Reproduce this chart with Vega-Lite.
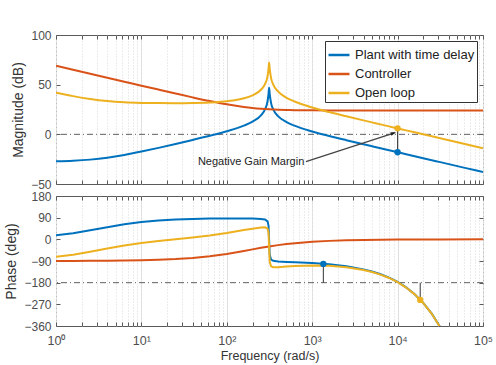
{
  "$schema": "https://vega.github.io/schema/vega-lite/v6.json",
  "padding": {"left": 4, "top": 28, "right": 2, "bottom": 2},
  "background": "white",
  "config": {
    "font": "Liberation Sans",
    "view": {"stroke": "#5a5a5a", "strokeWidth": 1},
    "axis": {
      "labelFontSize": 12,
      "labelColor": "#4d4d4d",
      "titleFontSize": 14,
      "titleFontWeight": "normal",
      "titleColor": "#333333",
      "domain": false,
      "tickColor": "#5a5a5a",
      "tickSize": -4,
      "gridColor": "#e3e3e3",
      "gridWidth": 1,
      "labelOverlap": false
    },
    "legend": {"labelFontSize": 13, "labelColor": "#222222"}
  },
  "datasets": {
    "bode": [
      {"w": 1, "s": "Plant with time delay", "mag": -27.07, "ph": 16.9},
      {"w": 1.585, "s": "Plant with time delay", "mag": -26.55, "ph": 25.7},
      {"w": 2.512, "s": "Plant with time delay", "mag": -25.46, "ph": 37.3},
      {"w": 3.981, "s": "Plant with time delay", "mag": -23.55, "ph": 50.3},
      {"w": 6.31, "s": "Plant with time delay", "mag": -20.77, "ph": 62.4},
      {"w": 10, "s": "Plant with time delay", "mag": -17.36, "ph": 71.7},
      {"w": 15.85, "s": "Plant with time delay", "mag": -13.62, "ph": 78.1},
      {"w": 25.12, "s": "Plant with time delay", "mag": -9.7, "ph": 82.2},
      {"w": 39.81, "s": "Plant with time delay", "mag": -5.65, "ph": 84.8},
      {"w": 63.1, "s": "Plant with time delay", "mag": -1.45, "ph": 86.2},
      {"w": 100, "s": "Plant with time delay", "mag": 3.11, "ph": 86.8},
      {"w": 158.5, "s": "Plant with time delay", "mag": 8.75, "ph": 86.7},
      {"w": 200, "s": "Plant with time delay", "mag": 12.76, "ph": 86.1},
      {"w": 251.2, "s": "Plant with time delay", "mag": 19.13, "ph": 84.6},
      {"w": 280, "s": "Plant with time delay", "mag": 25.08, "ph": 82.2},
      {"w": 300, "s": "Plant with time delay", "mag": 33.32, "ph": 74.7},
      {"w": 308, "s": "Plant with time delay", "mag": 40.75, "ph": 57.4},
      {"w": 313, "s": "Plant with time delay", "mag": 46.99, "ph": -3.3},
      {"w": 318, "s": "Plant with time delay", "mag": 40.86, "ph": -63.8},
      {"w": 330, "s": "Plant with time delay", "mag": 31.47, "ph": -83.8},
      {"w": 350, "s": "Plant with time delay", "mag": 25.06, "ph": -89.0},
      {"w": 398.1, "s": "Plant with time delay", "mag": 18.36, "ph": -91.9},
      {"w": 501.2, "s": "Plant with time delay", "mag": 12.29, "ph": -93.7},
      {"w": 631, "s": "Plant with time delay", "mag": 8.45, "ph": -95.1},
      {"w": 1000, "s": "Plant with time delay", "mag": 2.9, "ph": -98.5},
      {"w": 1585, "s": "Plant with time delay", "mag": -1.65, "ph": -103.8},
      {"w": 2512, "s": "Plant with time delay", "mag": -5.86, "ph": -111.9},
      {"w": 3981, "s": "Plant with time delay", "mag": -9.95, "ph": -124.7},
      {"w": 5012, "s": "Plant with time delay", "mag": -11.97, "ph": -133.7},
      {"w": 6310, "s": "Plant with time delay", "mag": -13.98, "ph": -145.0},
      {"w": 7943, "s": "Plant with time delay", "mag": -15.99, "ph": -159.2},
      {"w": 10000, "s": "Plant with time delay", "mag": -18.0, "ph": -177.1},
      {"w": 12590, "s": "Plant with time delay", "mag": -20.0, "ph": -199.6},
      {"w": 15850, "s": "Plant with time delay", "mag": -22.0, "ph": -228.0},
      {"w": 19950, "s": "Plant with time delay", "mag": -24.0, "ph": -263.7},
      {"w": 25120, "s": "Plant with time delay", "mag": -26.0, "ph": -308.8},
      {"w": 31620, "s": "Plant with time delay", "mag": -28.0, "ph": -365.4},
      {"w": 39810, "s": "Plant with time delay", "mag": -30.0, "ph": -436.7},
      {"w": 63100, "s": "Plant with time delay", "mag": -34.0, "ph": null},
      {"w": 100000, "s": "Plant with time delay", "mag": -38.0, "ph": null},

      {"w": 1, "s": "Controller", "mag": 69.0, "ph": -89.7},
      {"w": 1.585, "s": "Controller", "mag": 65.0, "ph": -89.5},
      {"w": 2.512, "s": "Controller", "mag": 61.0, "ph": -89.2},
      {"w": 3.981, "s": "Controller", "mag": 57.0, "ph": -88.7},
      {"w": 6.31, "s": "Controller", "mag": 53.0, "ph": -88.0},
      {"w": 10, "s": "Controller", "mag": 49.0, "ph": -86.8},
      {"w": 15.85, "s": "Controller", "mag": 45.04, "ph": -84.9},
      {"w": 25.12, "s": "Controller", "mag": 41.1, "ph": -82.0},
      {"w": 39.81, "s": "Controller", "mag": 37.22, "ph": -77.4},
      {"w": 63.1, "s": "Controller", "mag": 33.52, "ph": -70.5},
      {"w": 100, "s": "Controller", "mag": 30.2, "ph": -60.7},
      {"w": 158.5, "s": "Controller", "mag": 27.54, "ph": -48.3},
      {"w": 200, "s": "Controller", "mag": 26.53, "ph": -41.7},
      {"w": 251.2, "s": "Controller", "mag": 25.77, "ph": -35.3},
      {"w": 313, "s": "Controller", "mag": 25.22, "ph": -29.6},
      {"w": 398.1, "s": "Controller", "mag": 24.79, "ph": -24.1},
      {"w": 501.2, "s": "Controller", "mag": 24.52, "ph": -19.6},
      {"w": 631, "s": "Controller", "mag": 24.33, "ph": -15.8},
      {"w": 1000, "s": "Controller", "mag": 24.14, "ph": -10.1},
      {"w": 1585, "s": "Controller", "mag": 24.05, "ph": -6.4},
      {"w": 2512, "s": "Controller", "mag": 24.02, "ph": -4.1},
      {"w": 3981, "s": "Controller", "mag": 24.01, "ph": -2.6},
      {"w": 6310, "s": "Controller", "mag": 24.0, "ph": -1.6},
      {"w": 10000, "s": "Controller", "mag": 24.0, "ph": -1.0},
      {"w": 31620, "s": "Controller", "mag": 24.0, "ph": -0.3},
      {"w": 100000, "s": "Controller", "mag": 24.0, "ph": -0.1},

      {"w": 1, "s": "Open loop", "mag": 41.9, "ph": -72.8},
      {"w": 1.585, "s": "Open loop", "mag": 38.45, "ph": -63.8},
      {"w": 2.512, "s": "Open loop", "mag": 35.55, "ph": -51.9},
      {"w": 3.981, "s": "Open loop", "mag": 33.45, "ph": -38.4},
      {"w": 6.31, "s": "Open loop", "mag": 32.23, "ph": -25.6},
      {"w": 10, "s": "Open loop", "mag": 31.66, "ph": -15.1},
      {"w": 15.85, "s": "Open loop", "mag": 31.42, "ph": -6.8},
      {"w": 25.12, "s": "Open loop", "mag": 31.4, "ph": 0.2},
      {"w": 39.81, "s": "Open loop", "mag": 31.57, "ph": 7.4},
      {"w": 63.1, "s": "Open loop", "mag": 32.07, "ph": 15.7},
      {"w": 100, "s": "Open loop", "mag": 33.31, "ph": 26.1},
      {"w": 158.5, "s": "Open loop", "mag": 36.29, "ph": 38.4},
      {"w": 200, "s": "Open loop", "mag": 39.29, "ph": 44.4},
      {"w": 251.2, "s": "Open loop", "mag": 44.9, "ph": 49.3},
      {"w": 280, "s": "Open loop", "mag": 50.55, "ph": 49.8},
      {"w": 300, "s": "Open loop", "mag": 58.63, "ph": 44.0},
      {"w": 308, "s": "Open loop", "mag": 66.0, "ph": 27.4},
      {"w": 313, "s": "Open loop", "mag": 72.21, "ph": -32.9},
      {"w": 318, "s": "Open loop", "mag": 66.04, "ph": -93.0},
      {"w": 330, "s": "Open loop", "mag": 56.58, "ph": -112.1},
      {"w": 350, "s": "Open loop", "mag": 50.06, "ph": -116.0},
      {"w": 398.1, "s": "Open loop", "mag": 43.15, "ph": -116.0},
      {"w": 501.2, "s": "Open loop", "mag": 36.81, "ph": -113.3},
      {"w": 631, "s": "Open loop", "mag": 32.78, "ph": -110.9},
      {"w": 1000, "s": "Open loop", "mag": 27.04, "ph": -108.6},
      {"w": 1585, "s": "Open loop", "mag": 22.4, "ph": -110.2},
      {"w": 2512, "s": "Open loop", "mag": 18.16, "ph": -116.0},
      {"w": 3981, "s": "Open loop", "mag": 14.06, "ph": -127.3},
      {"w": 5012, "s": "Open loop", "mag": 12.03, "ph": -135.7},
      {"w": 6310, "s": "Open loop", "mag": 10.02, "ph": -146.6},
      {"w": 7943, "s": "Open loop", "mag": 8.01, "ph": -160.5},
      {"w": 10000, "s": "Open loop", "mag": 6.0, "ph": -178.1},
      {"w": 12590, "s": "Open loop", "mag": 4.0, "ph": -200.4},
      {"w": 15850, "s": "Open loop", "mag": 2.0, "ph": -228.6},
      {"w": 19950, "s": "Open loop", "mag": 0.0, "ph": -264.2},
      {"w": 25120, "s": "Open loop", "mag": -2.0, "ph": -309.2},
      {"w": 31620, "s": "Open loop", "mag": -4.0, "ph": -365.7},
      {"w": 39810, "s": "Open loop", "mag": -6.0, "ph": -437.0},
      {"w": 63100, "s": "Open loop", "mag": -10.0, "ph": null},
      {"w": 100000, "s": "Open loop", "mag": -14.0, "ph": null}
    ]
  },
  "spacing": -2,
  "resolve": {"legend": {"color": "independent"}},
  "vconcat": [
    {
      "width": 427,
      "height": 149,
      "resolve": {"axis": {"x": "independent", "y": "independent"}},
      "layer": [
        {
          "data": {"values": [{"y": 0}]},
          "mark": {"type": "rule", "color": "#606060", "strokeWidth": 1, "strokeDash": [6, 3, 1, 3]},
          "encoding": {"y": {"field": "y", "type": "quantitative", "axis": null}}
        },
        {
          "data": {"name": "bode"},
          "mark": {"type": "line", "strokeWidth": 2, "clip": true, "interpolate": "monotone"},
          "encoding": {
            "x": {
              "field": "w", "type": "quantitative",
              "scale": {"type": "log", "domain": [1, 100000], "nice": false},
              "axis": {
                "title": null, "labels": false, "minExtent": 0, "maxExtent": 0, "offset": 0, "tickCount": 46,
                "values": [1,2,3,4,5,6,7,8,9,10,20,30,40,50,60,70,80,90,100,200,300,400,500,600,700,800,900,1000,2000,3000,4000,5000,6000,7000,8000,9000,10000,20000,30000,40000,50000,60000,70000,80000,90000,100000],
                "gridDash": {"condition": {"test": "indexof([1,10,100,1000,10000,100000], datum.value) >= 0", "value": [4, 0]}, "value": [1, 2]},
                "gridColor": {"condition": {"test": "indexof([1,10,100,1000,10000,100000], datum.value) >= 0", "value": "#dedede"}, "value": "#d8d8d8"}
              }
            },
            "y": {
              "field": "mag", "type": "quantitative",
              "scale": {"domain": [-50, 100], "nice": false},
              "axis": {"title": "Magnitude (dB)", "values": [-50, 0, 50, 100], "tickCount": 4, "labelPadding": 9, "titlePadding": 5}
            },
            "color": {
              "field": "s", "type": "nominal",
              "scale": {"domain": ["Plant with time delay", "Controller", "Open loop"], "range": ["#0072BD", "#D95319", "#EDB120"]},
              "legend": {
                "title": null, "orient": "top-right", "offset": 6,
                "symbolType": "stroke", "symbolSize": 440, "symbolStrokeWidth": 2.5,
                "fillColor": "white", "strokeColor": "#333333", "padding": 2, "rowPadding": -4, "labelOffset": 4
              }
            }
          }
        },
        {
          "data": {"values": [{"w": 10000, "a": -18.0, "b": 6.0}]},
          "mark": {"type": "rule", "color": "#333333", "strokeWidth": 1},
          "encoding": {
            "x": {
              "field": "w", "type": "quantitative",
              "axis": {
                "orient": "top", "title": null, "labels": false, "grid": false, "minExtent": 0, "maxExtent": 0, "tickCount": 46,
                "values": [1,2,3,4,5,6,7,8,9,10,20,30,40,50,60,70,80,90,100,200,300,400,500,600,700,800,900,1000,2000,3000,4000,5000,6000,7000,8000,9000,10000,20000,30000,40000,50000,60000,70000,80000,90000,100000]
              }
            },
            "y": {
              "field": "a", "type": "quantitative",
              "axis": {"orient": "right", "title": null, "labels": false, "grid": false, "minExtent": 0, "maxExtent": 0, "values": [-50, 0, 50, 100], "tickCount": 4}
            },
            "y2": {"field": "b"}
          }
        },
        {
          "data": {"values": [{"w": 10000, "v": -18.0}]},
          "mark": {"type": "point", "filled": true, "opacity": 1, "size": 40, "color": "#0072BD"},
          "encoding": {"x": {"field": "w", "type": "quantitative", "axis": null}, "y": {"field": "v", "type": "quantitative", "axis": null}}
        },
        {
          "data": {"values": [{"w": 10000, "v": 6.0}]},
          "mark": {"type": "point", "filled": true, "opacity": 1, "size": 40, "color": "#EDB120"},
          "encoding": {"x": {"field": "w", "type": "quantitative", "axis": null}, "y": {"field": "v", "type": "quantitative", "axis": null}}
        },
        {
          "data": {"values": [{"w": 845, "a": -27.5, "w2": 9200, "b": 1.4}]},
          "mark": {"type": "rule", "color": "#444444", "strokeWidth": 1.2},
          "encoding": {
            "x": {"field": "w", "type": "quantitative", "axis": null},
            "y": {"field": "a", "type": "quantitative", "axis": null},
            "x2": {"field": "w2"},
            "y2": {"field": "b"}
          }
        },
        {
          "data": {"values": [{"w": 9620, "v": 2.0}]},
          "mark": {"type": "point", "filled": true, "opacity": 1, "size": 121, "color": "#222222", "shape": "M0,0L-1,-0.32L-1,0.32Z", "angle": -18},
          "encoding": {"x": {"field": "w", "type": "quantitative", "axis": null}, "y": {"field": "v", "type": "quantitative", "axis": null}}
        },
        {
          "data": {"values": [{"w": 830, "v": -27.5, "t": "Negative Gain Margin"}]},
          "mark": {"type": "text", "align": "right", "baseline": "middle", "fontSize": 11, "color": "#222222", "dx": -1},
          "encoding": {"x": {"field": "w", "type": "quantitative", "axis": null}, "y": {"field": "v", "type": "quantitative", "axis": null}, "text": {"field": "t"}}
        }
      ]
    },
    {
      "width": 427,
      "height": 130,
      "resolve": {"axis": {"x": "independent", "y": "independent"}},
      "layer": [
        {
          "data": {"values": [{"y": -180}]},
          "mark": {"type": "rule", "color": "#606060", "strokeWidth": 1, "strokeDash": [6, 3, 1, 3]},
          "encoding": {"y": {"field": "y", "type": "quantitative", "axis": null}}
        },
        {
          "data": {"name": "bode"},
          "transform": [{"filter": "datum.ph != null"}],
          "mark": {"type": "line", "strokeWidth": 2, "clip": true},
          "encoding": {
            "x": {
              "field": "w", "type": "quantitative",
              "scale": {"type": "log", "domain": [1, 100000], "nice": false},
              "axis": {
                "title": "Frequency  (rad/s)", "titleFontSize": 12.5, "titlePadding": 3, "tickCount": 46,
                "labelPadding": 12, "labelFlush": false, "labelBound": false, "labelFontSize": 12.5,
                "values": [1,2,3,4,5,6,7,8,9,10,20,30,40,50,60,70,80,90,100,200,300,400,500,600,700,800,900,1000,2000,3000,4000,5000,6000,7000,8000,9000,10000,20000,30000,40000,50000,60000,70000,80000,90000,100000],
                "labelExpr": "datum.value == 1 ? '10⁰' : datum.value == 10 ? '10¹' : datum.value == 100 ? '10²' : datum.value == 1000 ? '10³' : datum.value == 10000 ? '10⁴' : datum.value == 100000 ? '10⁵' : ''",
                "gridDash": {"condition": {"test": "indexof([1,10,100,1000,10000,100000], datum.value) >= 0", "value": [4, 0]}, "value": [1, 2]},
                "gridColor": {"condition": {"test": "indexof([1,10,100,1000,10000,100000], datum.value) >= 0", "value": "#dedede"}, "value": "#d8d8d8"}
              }
            },
            "y": {
              "field": "ph", "type": "quantitative",
              "scale": {"domain": [-360, 180], "nice": false},
              "axis": {"title": "Phase (deg)", "values": [-360, -270, -180, -90, 0, 90, 180], "tickCount": 7, "labelPadding": 9, "titlePadding": 5}
            },
            "color": {
              "field": "s", "type": "nominal",
              "scale": {"domain": ["Plant with time delay", "Controller", "Open loop"], "range": ["#0072BD", "#D95319", "#EDB120"]},
              "legend": null
            }
          }
        },
        {
          "data": {"values": [{"w": 1350, "a": -180, "b": -102}, {"w": 18400, "a": -180, "b": -251.7}]},
          "mark": {"type": "rule", "color": "#333333", "strokeWidth": 1},
          "encoding": {
            "x": {
              "field": "w", "type": "quantitative",
              "axis": {
                "orient": "top", "title": null, "labels": false, "grid": false, "minExtent": 0, "maxExtent": 0, "tickCount": 46,
                "values": [1,2,3,4,5,6,7,8,9,10,20,30,40,50,60,70,80,90,100,200,300,400,500,600,700,800,900,1000,2000,3000,4000,5000,6000,7000,8000,9000,10000,20000,30000,40000,50000,60000,70000,80000,90000,100000]
              }
            },
            "y": {
              "field": "a", "type": "quantitative",
              "axis": {"orient": "right", "title": null, "labels": false, "grid": false, "minExtent": 0, "maxExtent": 0, "values": [-360, -270, -180, -90, 0, 90, 180], "tickCount": 7}
            },
            "y2": {"field": "b"}
          }
        },
        {
          "data": {"values": [{"w": 1350, "v": -102}]},
          "mark": {"type": "point", "filled": true, "opacity": 1, "size": 40, "color": "#0072BD"},
          "encoding": {"x": {"field": "w", "type": "quantitative", "axis": null}, "y": {"field": "v", "type": "quantitative", "axis": null}}
        },
        {
          "data": {"values": [{"w": 18400, "v": -251.7}]},
          "mark": {"type": "point", "filled": true, "opacity": 1, "size": 40, "color": "#EDB120"},
          "encoding": {"x": {"field": "w", "type": "quantitative", "axis": null}, "y": {"field": "v", "type": "quantitative", "axis": null}}
        }
      ]
    }
  ]
}
